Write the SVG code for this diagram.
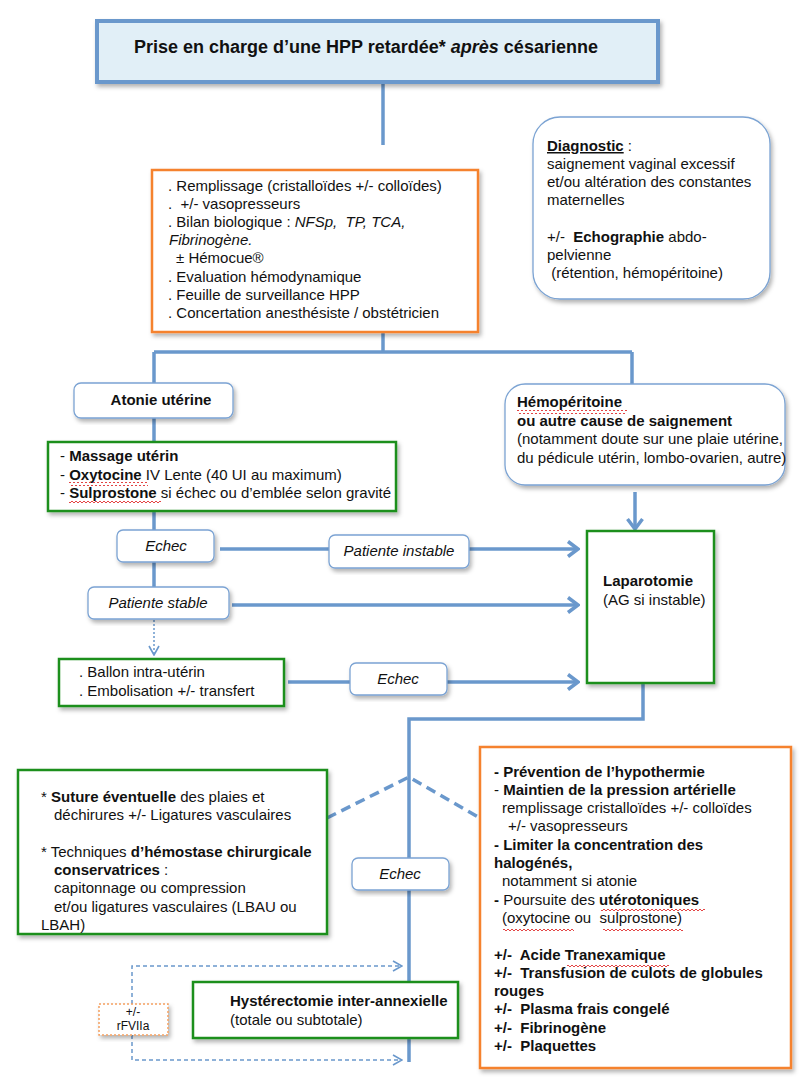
<svg xmlns="http://www.w3.org/2000/svg" width="811" height="1090" viewBox="0 0 811 1090">
<style>
text{font-family:"Liberation Sans",Arial,sans-serif;font-size:15px;fill:#111;white-space:pre}
.b{font-weight:bold}
.i{font-style:italic}
.m{text-anchor:middle}
.ln{fill:none;stroke:#6a98cc;stroke-width:3.5}
.dl{fill:none;stroke:#6a98cc;stroke-width:3.5;stroke-dasharray:10 6}
.sd{fill:none;stroke:#6a98cc;stroke-width:1.5;stroke-dasharray:4 3}
.gr{fill:#fff;stroke:#1f8f1f;stroke-width:2.5}
.or{fill:#fff;stroke:#f5822f;stroke-width:2.5}
.rb{fill:#fff;stroke:#7ba3d3;stroke-width:1.3}
.sq{fill:url(#wave)}
</style>
<defs>
<filter id="sh" x="-10%" y="-10%" width="125%" height="130%"><feDropShadow dx="2" dy="3" stdDeviation="2" flood-color="#000" flood-opacity="0.3"/></filter>
<marker id="ar" markerUnits="userSpaceOnUse" markerWidth="14" markerHeight="18" viewBox="0 0 14 18" refX="12" refY="9" orient="auto"><path d="M2,1.5 L12,9 L2,16.5" fill="none" stroke="#6a98cc" stroke-width="3.5"/></marker>
<marker id="as" markerUnits="userSpaceOnUse" markerWidth="12" markerHeight="12" viewBox="0 0 12 12" refX="11" refY="6" orient="auto"><path d="M2,1 L11,6 L2,11" fill="none" stroke="#6a98cc" stroke-width="1.6"/></marker>
<pattern id="wave" patternUnits="userSpaceOnUse" width="4" height="4"><path d="M0,1 L2,3 L4,1" fill="none" stroke="#e03030" stroke-width="0.9"/></pattern>
</defs>

<g id="connectors">
<path class="ln" d="M383,82 V145"/>
<path class="ln" d="M383,332 V352"/>
<path class="ln" d="M154,352 H632"/>
<path class="ln" d="M154,352 V383"/>
<path class="ln" d="M632,352 V384"/>
<path class="ln" d="M154,418 V442"/>
<path class="ln" d="M154,511 V530"/>
<path class="ln" d="M154,562 V587"/>
<path class="ln" d="M220,549 H578" marker-end="url(#ar)"/>
<path class="ln" d="M232,605 H578" marker-end="url(#ar)"/>
<path fill="none" stroke="#6a98cc" stroke-width="1.5" stroke-dasharray="2 2" d="M154,620 V655" marker-end="url(#as)"/>
<path class="ln" d="M288,682 H578" marker-end="url(#ar)"/>
<path class="ln" d="M635,492 V529" marker-end="url(#ar)"/>
<path class="ln" d="M643,683 V719 H409 V1062"/>
<path class="dl" d="M327,818 L409,777 L480,818"/>
<path class="sd" d="M132,1004 V966 H402" marker-end="url(#as)"/>
<path class="sd" d="M132,1035 V1060 H402" marker-end="url(#as)"/>
</g>

<g id="title">
<rect x="97" y="21" width="561" height="61" fill="#e1eff7" stroke="#6a98cc" stroke-width="4" filter="url(#sh)"/>
<text x="134" y="53" class="b" style="font-size:18px">Prise en charge d’une HPP retardée* <tspan class="i">après</tspan> césarienne</text>
</g>

<g id="initial">
<rect x="152" y="170" width="326" height="162" class="or" filter="url(#sh)"/>
<text x="168" y="191">. Remplissage (cristalloïdes +/- colloïdes)</text>
<text x="168" y="209">.  +/- vasopresseurs</text>
<text x="168" y="227">. Bilan biologique : <tspan class="i">NFSp,  TP, TCA,</tspan></text>
<text x="169" y="245" class="i">Fibrinogène.</text>
<text x="176" y="263">± Hémocue®</text>
<text x="168" y="282">. Evaluation hémodynamique</text>
<text x="168" y="300">. Feuille de surveillance HPP</text>
<text x="168" y="318">. Concertation anesthésiste / obstétricien</text>
</g>

<g id="diagnostic">
<rect x="533" y="117" width="237" height="182" rx="27" class="rb" filter="url(#sh)"/>
<text x="547" y="151"><tspan class="b" text-decoration="underline">Diagnostic</tspan> :</text>
<text x="547" y="169">saignement vaginal excessif</text>
<text x="547" y="187">et/ou altération des constantes</text>
<text x="547" y="205">maternelles</text>
<text x="547" y="242">+/-  <tspan class="b">Echographie</tspan> abdo-</text>
<text x="547" y="260">pelvienne</text>
<text x="547" y="278"> (rétention, hémopéritoine)</text>
</g>

<g id="atonie">
<rect x="74" y="383" width="159" height="35" rx="7" class="rb" filter="url(#sh)"/>
<text x="161" y="405" class="b m">Atonie utérine</text>
</g>

<g id="uterotoniques">
<rect x="48" y="442" width="348" height="69" class="gr" filter="url(#sh)"/>
<text x="60" y="461">- <tspan class="b">Massage utérin</tspan></text>
<text x="60" y="480">- <tspan class="b">Oxytocine</tspan> IV Lente (40 UI au maximum)</text>
<text x="60" y="498">- <tspan class="b">Sulprostone</tspan> si échec ou d’emblée selon gravité</text>
<rect x="69" y="482" width="79" height="4" class="sq"/>
<rect x="69" y="500" width="92" height="4" class="sq"/>
</g>

<g id="hemoperitoine">
<rect x="505" y="384" width="280" height="101" rx="20" class="rb" filter="url(#sh)"/>
<text x="517" y="407" class="b">Hémopéritoine</text>
<text x="517" y="426" class="b">ou autre cause de saignement</text>
<text x="517" y="444">(notamment doute sur une plaie utérine,</text>
<text x="517" y="463">du pédicule utérin, lombo-ovarien, autre)</text>
<rect x="517" y="410" width="110" height="4" class="sq"/>
</g>

<g id="echec1">
<rect x="117" y="530" width="97" height="32" rx="6" class="rb" filter="url(#sh)"/>
<text x="166" y="551" class="i m">Echec</text>
</g>

<g id="patiente-instable">
<rect x="329" y="535" width="140" height="33" rx="6" class="rb" filter="url(#sh)"/>
<text x="399" y="556" class="i m">Patiente instable</text>
</g>

<g id="patiente-stable">
<rect x="88" y="587" width="141" height="32" rx="6" class="rb" filter="url(#sh)"/>
<text x="158" y="608" class="i m">Patiente stable</text>
</g>

<g id="laparotomie">
<rect x="587" y="531" width="127" height="152" class="gr" filter="url(#sh)"/>
<text x="603" y="586" class="b">Laparotomie</text>
<text x="603" y="605">(AG si instable)</text>
</g>

<g id="ballon">
<rect x="59" y="659" width="225" height="47" class="gr" filter="url(#sh)"/>
<text x="79" y="677">. Ballon intra-utérin</text>
<text x="79" y="696">. Embolisation +/- transfert</text>
</g>

<g id="echec3">
<rect x="350" y="663" width="97" height="32" rx="6" class="rb" filter="url(#sh)"/>
<text x="398" y="684" class="i m">Echec</text>
</g>

<g id="chirurgie-conservatrice">
<rect x="18" y="770" width="309" height="164" class="gr" filter="url(#sh)"/>
<text x="41" y="802">* <tspan class="b">Suture éventuelle</tspan> des plaies et</text>
<text x="54" y="820">déchirures +/- Ligatures vasculaires</text>
<text x="41" y="857">* Techniques <tspan class="b">d’hémostase chirurgicale</tspan></text>
<text x="54" y="875"><tspan class="b">conservatrices</tspan> :</text>
<text x="54" y="893">capitonnage ou compression</text>
<text x="54" y="912">et/ou ligatures vasculaires (LBAU ou</text>
<text x="41" y="930">LBAH)</text>
</g>

<g id="echec2">
<rect x="352" y="858" width="97" height="32" rx="6" class="rb" filter="url(#sh)"/>
<text x="400" y="879" class="i m">Echec</text>
</g>

<g id="reanimation">
<rect x="480" y="747" width="311" height="321" class="or" filter="url(#sh)"/>
<text x="494" y="777" class="b">- Prévention de l’hypothermie</text>
<text x="494" y="795">- <tspan class="b">Maintien de la pression artérielle</tspan></text>
<text x="502" y="813">remplissage cristalloïdes +/- colloïdes</text>
<text x="508" y="831">+/- vasopresseurs</text>
<text x="494" y="850" class="b">- Limiter la concentration des</text>
<text x="494" y="868" class="b">halogénés,</text>
<text x="502" y="886">notamment si atonie</text>
<text x="494" y="905"><tspan class="b">-</tspan> Poursuite des <tspan class="b">utérotoniques</tspan></text>
<text x="502" y="923">(oxytocine ou  sulprostone)</text>
<rect x="601" y="909" width="104" height="4" class="sq"/>
<rect x="503" y="927" width="71" height="4" class="sq"/>
<rect x="603" y="927" width="80" height="4" class="sq"/>
<text x="494" y="960" class="b">+/-  Acide Tranexamique</text>
<rect x="567" y="963" width="102" height="4" class="sq"/>
<text x="494" y="978" class="b">+/-  Transfusion de culots de globules</text>
<text x="494" y="996" class="b">rouges</text>
<text x="494" y="1014" class="b">+/-  Plasma frais congelé</text>
<text x="494" y="1033" class="b">+/-  Fibrinogène</text>
<text x="494" y="1051" class="b">+/-  Plaquettes</text>
</g>

<g id="rfviia">
<rect x="99" y="1004" width="69" height="31" fill="#fff" stroke="#f5a060" stroke-width="1.5" stroke-dasharray="2 2" filter="url(#sh)"/>
<text x="133" y="1016" class="m" style="font-size:12px">+/-</text>
<text x="133" y="1030" class="m" style="font-size:12px">rFVIIa</text>
</g>

<g id="hysterectomie">
<rect x="193" y="982" width="265" height="56" class="gr" filter="url(#sh)"/>
<text x="230" y="1006" class="b">Hystérectomie inter-annexielle</text>
<text x="230" y="1025">(totale ou subtotale)</text>
</g>
</svg>
